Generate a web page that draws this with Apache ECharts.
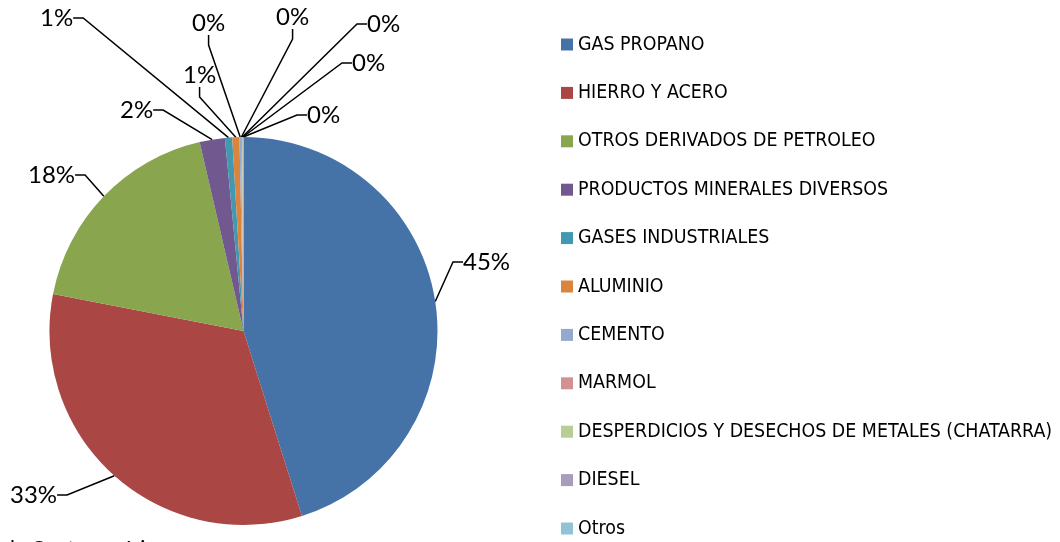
<!DOCTYPE html>
<html>
<head>
<meta charset="utf-8">
<script src="https://cdn.jsdelivr.net/npm/echarts@6/dist/echarts.min.js"></script>
<style>
  html, body { margin: 0; padding: 0; background: #fff; }
  #pie-chart { width: 1060px; height: 542px; }
</style>
</head>
<body>
<div id="pie-chart"></div>
<script>
(function () {
    'use strict';

    // categorias y participacion (%)
    var categorias = [
        'GAS PROPANO',
        'HIERRO Y ACERO',
        'OTROS DERIVADOS DE PETROLEO',
        'PRODUCTOS MINERALES DIVERSOS',
        'GASES INDUSTRIALES',
        'ALUMINIO',
        'CEMENTO',
        'MARMOL',
        'DESPERDICIOS Y DESECHOS DE METALES (CHATARRA)',
        'DIESEL',
        'Otros'
    ];
    var valores = [45.1, 32.9, 18.3, 2.1, 0.6, 0.6, 0.12, 0.08, 0.06, 0.04, 0.03];

    var colores = ['#4572A7', '#AA4643', '#89A54E', '#71588F', '#4198AF', '#DB843D',
                   '#93A9CF', '#D19392', '#B9CD96', '#A99BBD', '#92C3D5'];

    // posicion de cada etiqueta (izquierda, centro vertical del texto)
    var etiquetaX = [463, 10, 28, 120, 40, 183, 192, 276, 367, 352, 307];
    var etiquetaY = [262, 495, 175, 110, 18, 75, 23, 17, 24, 63, 115];

    var myChart = echarts.init(document.getElementById('pie-chart'));

    var datos = categorias.map(function (c, i) {
        return { name: c, value: valores[i] };
    });

    var option = {
        animation: false,
        color: colores,
        legend: {
            orient: 'vertical',
            left: 556,
            top: 30,
            height: 512,
            icon: 'rect',
            itemWidth: 12,
            itemHeight: 12,
            itemGap: 29.4,
            selectedMode: false,
            textStyle: {
                fontFamily: '"DejaVu Sans Condensed", "Liberation Sans Narrow", sans-serif',
                fontSize: 19.4,
                color: '#000'
            },
            data: categorias
        },
        graphic: [{
            type: 'text',
            left: 10,
            top: 539,
            style: {
                text: 'la Centroamérica',
                font: '21px Lato, sans-serif',
                fill: '#000'
            }
        }],
        series: [{
            type: 'pie',
            center: [243.5, 331],
            radius: 194,
            startAngle: 90,
            clockwise: true,
            minAngle: 0,
            avoidLabelOverlap: false,
            emphasis: { disabled: true },
            itemStyle: { borderWidth: 0 },
            label: {
                show: true,
                position: 'outside',
                fontFamily: 'Lato, "Noto Sans", sans-serif',
                fontSize: 24,
                color: '#000',
                padding: [0, 5, 0, 5],
                formatter: function (p) {
                    return Math.round(p.percent) + '%';
                }
            },
            labelLine: {
                show: true,
                length: 10,
                length2: 10,
                lineStyle: { color: '#000', width: 1.5 }
            },
            labelLayout: function (p) {
                return {
                    x: etiquetaX[p.dataIndex] - 5,
                    y: etiquetaY[p.dataIndex],
                    align: 'left',
                    verticalAlign: 'middle'
                };
            },
            data: datos
        }]
    };

    myChart.setOption(option);
})();
</script>
</body>
</html>
